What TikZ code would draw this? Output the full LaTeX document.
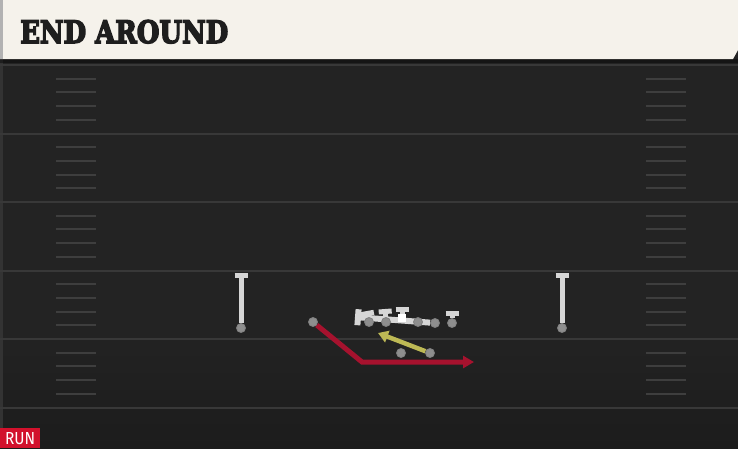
\documentclass[tikz,border=0pt]{standalone}
\usepackage{fontspec}
\usepackage{graphicx}
\usetikzlibrary{arrows.meta}
\newfontfamily\titlefont{DejaVu Serif}[BoldFeatures={FakeBold=5}]
\newfontfamily\tagfont{Fira Sans}
\definecolor{turf}{HTML}{232323}
\definecolor{yardline}{HTML}{383838}
\definecolor{hashmark}{HTML}{3E3E3E}
\definecolor{cream}{HTML}{F5F2EB}
\definecolor{ink}{HTML}{1E1E1E}
\definecolor{chalk}{HTML}{D6D6D6}
\definecolor{dotgray}{HTML}{8E8E8E}
\definecolor{runred}{HTML}{A6122E}
\definecolor{tagred}{HTML}{D2112C}
\definecolor{motion}{HTML}{BDB955}
\pgfdeclarelayer{field}
\pgfdeclarelayer{paths}
\pgfsetlayers{field,paths,main}

\begin{document}
\begin{tikzpicture}[x=1pt,y=-1pt,
  player/.style={circle,fill=dotgray,draw=chalk!60!black,line width=0.8pt,inner sep=0pt,minimum size=9pt},
  snapper/.style={rectangle,fill=white,inner sep=0pt,minimum size=8.5pt},
  block/.style={chalk,line width=5pt,-{Bar[width=13pt]}},
  route/.style={runred,line width=5pt,-{Triangle[length=11pt,width=12pt]}},
  pitch/.style={motion,line width=4.5pt,-{Triangle[length=10pt,width=12pt]}}]
\useasboundingbox (0,0) rectangle (738,448);
\begin{pgfonlayer}{field}
\fill [turf] (0,0) rectangle (738,448);
\shade [top color=turf,bottom color=black!89] (0,330) rectangle (738,448);
\fill [black!80] (0,59) rectangle (3,448);
\foreach \i in {0,...,5}
  \draw [yardline,line width=2pt] (0,65+68.5*\i) -- (738,65+68.5*\i);
\foreach \i in {0,...,4}
  \foreach \j in {1,...,4} {
    \draw [hashmark,line width=2pt] (56,{65+68.5*\i+13.7*\j}) -- (96,{65+68.5*\i+13.7*\j});
    \draw [hashmark,line width=2pt] (646,{65+68.5*\i+13.7*\j}) -- (686,{65+68.5*\i+13.7*\j});
  }
\fill [black,opacity=0.4] (0,59) rectangle (738,63);
\fill [cream] (0,0) -- (738,0) -- (738,50) -- (733,59) -- (0,59) -- cycle;
\fill [black!30] (0,0) rectangle (3,59);
\end{pgfonlayer}
\node (title) [anchor=base west,inner sep=0pt,text=ink] at (20,43) {\resizebox{208pt}{23pt}{\titlefont\bfseries END AROUND}};
\node (tag) [fill=tagred,anchor=north west,minimum width=40pt,minimum height=20pt,inner sep=0pt,text=white] at (0,428) {\resizebox{30pt}{12pt}{\tagfont RUN}};
\node (wrl) [player] at (241,328) {};
\node (wrr) [player] at (562,328) {};
\node (wing) [player] at (313,322) {};
\node (ol1) [player] at (369,322) {};
\node (ol2) [player] at (386,322) {};
\node (snap) [snapper] at (402,318) {};
\node (ol4) [player] at (418,322) {};
\node (ol5) [player] at (435,323) {};
\node (te) [player] at (452,323) {};
\node (qb) [player] at (401,353) {};
\node (rb) [player] at (430,353) {};
\coordinate (wrlt) at (241,273);
\coordinate (wrrt) at (562,273);
\coordinate (pull) at (355,317);
\coordinate (b1) at (367,311);
\coordinate (b2) at (385,309);
\coordinate (b3) at (402,307);
\coordinate (b4) at (452,311);
\coordinate (turn) at (362,362);
\coordinate (goal) at (474,362);
\coordinate (toss) at (378,333);
\begin{pgfonlayer}{paths}
\draw [block] (wrl) edge (wrlt);
\draw [block] (wrr) edge (wrrt);
\draw [block,line width=6pt,-{Bar[width=16pt]}] (ol5) edge (pull);
\draw [block] (ol1) edge (b1);
\draw [block] (ol2) edge (b2);
\draw [block] (snap) edge (b3);
\draw [block] (te) edge (b4);
\draw [route] (wing) -- (turn) -- (goal);
\draw [pitch] (rb) edge (toss);
\end{pgfonlayer}
\end{tikzpicture}
\end{document}
